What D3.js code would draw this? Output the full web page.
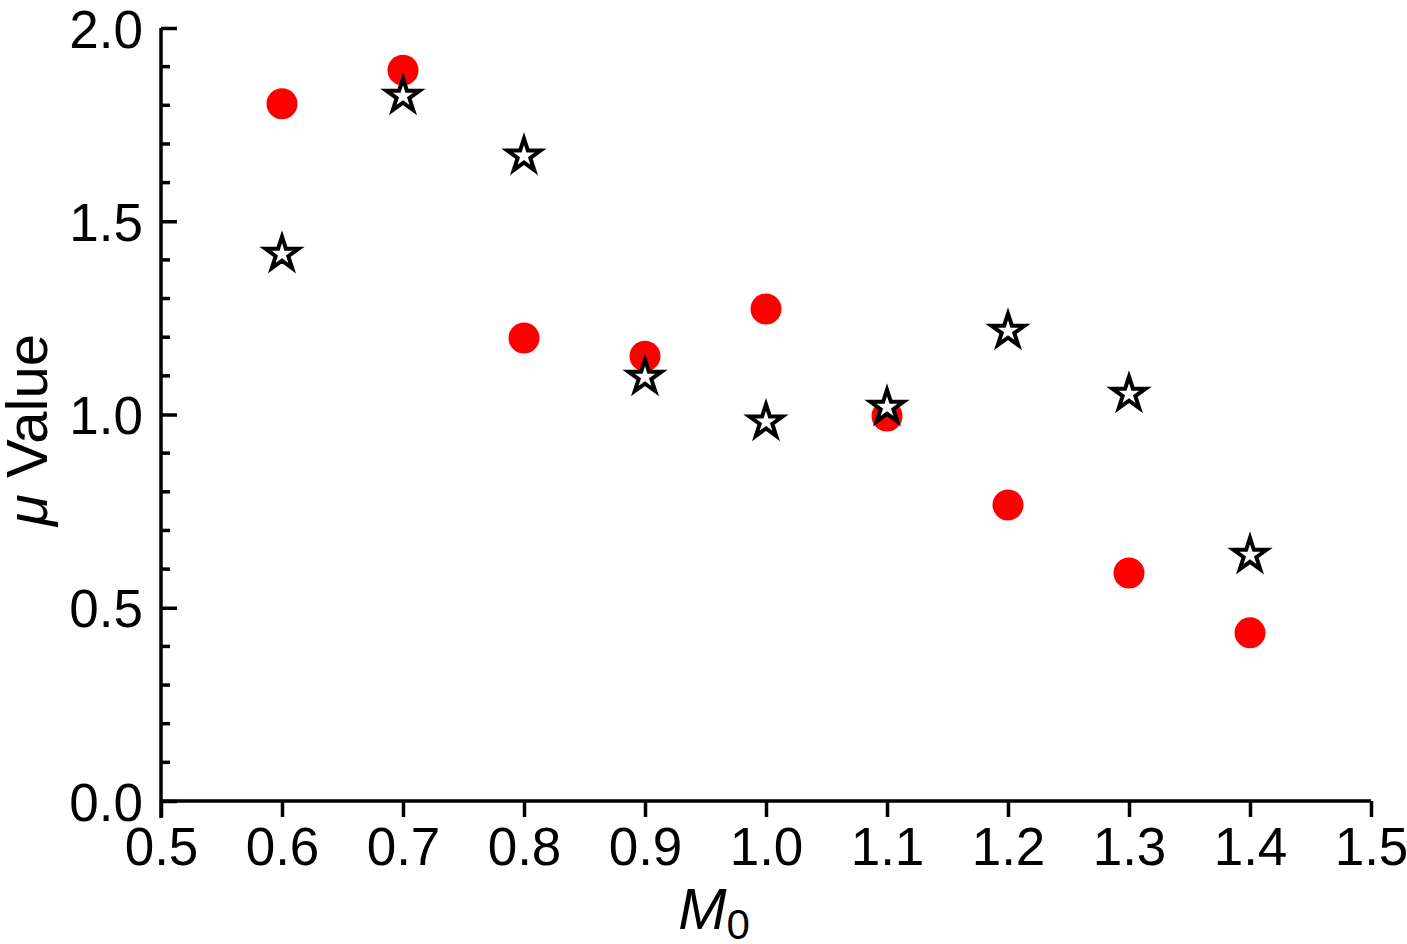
<!DOCTYPE html>
<html><head><meta charset="utf-8">
<script src="https://cdn.jsdelivr.net/npm/d3@7"></script>
<style>body{margin:0;background:#fff}svg{display:block}</style>
</head><body>
<script>
const m0 = [0.6,0.7,0.8,0.9,1.0,1.1,1.2,1.3,1.4];
const circleValues = [1.804,1.891,1.198,1.151,1.273,0.996,0.766,0.590,0.435];
const starValues = [1.415,1.824,1.669,1.097,0.981,1.019,1.216,1.053,0.636];
const xTicks = [0.5,0.6,0.7,0.8,0.9,1.0,1.1,1.2,1.3,1.4,1.5];
const yTicks = [0.0,0.5,1.0,1.5,2.0];
const yMinor = [0.1,0.2,0.3,0.4,0.6,0.7,0.8,0.9,1.1,1.2,1.3,1.4,1.6,1.7,1.8,1.9];

const W=1407,H=944;
const svg=d3.select("body").append("svg").attr("width",W).attr("height",H);
const x=d3.scaleLinear().domain([0.5,1.5]).range([161,1371]);
const y=d3.scaleLinear().domain([0,2]).range([801,28]);
const font="Liberation Sans, Arial, sans-serif";

// x axis
const gx=svg.append("g").attr("transform","translate(0,801)")
  .call(d3.axisBottom(x).tickValues(xTicks).tickFormat(d3.format(".1f")).tickSize(16).tickPadding(10));
gx.select(".domain").attr("stroke-width",3.5).attr("d",`M${x(0.5)},0H${x(1.5)}`);
gx.selectAll(".tick line").attr("stroke-width",3.5);
gx.selectAll(".tick text").attr("font-family",font).attr("font-size",53).attr("fill","#000");

// y axis (ticks inside)
const gy=svg.append("g").attr("transform","translate(161,0)")
  .call(d3.axisLeft(y).tickValues(yTicks).tickFormat(d3.format(".1f")).tickSize(0).tickPadding(18));
gy.select(".domain").attr("stroke-width",3.5).attr("d",`M0,${y(2)}V${801+17}`);
gy.selectAll(".tick text").attr("font-family",font).attr("font-size",53).attr("fill","#000").attr("dy","0.36em");
gy.selectAll(".tick").append("line").attr("x1",0).attr("x2",16).attr("stroke","#000").attr("stroke-width",3.5);
gy.selectAll(".minor").data(yMinor).enter().append("line")
  .attr("x1",0).attr("x2",9).attr("y1",d=>y(d)).attr("y2",d=>y(d))
  .attr("stroke","#000").attr("stroke-width",3.5);

// labels
svg.append("text").attr("transform","translate(47,430) rotate(-90)")
  .attr("text-anchor","middle").attr("font-family",font).attr("font-size",58)
  .html('<tspan font-style="italic">μ</tspan> Value');
svg.append("text").attr("x",714).attr("y",929).attr("text-anchor","middle")
  .attr("font-family",font).attr("font-size",58)
  .html('<tspan font-style="italic">M</tspan><tspan font-size="42" dy="10">0</tspan>');

// circles
svg.append("g").selectAll("circle").data(m0).enter().append("circle")
  .attr("cx",d=>x(d)).attr("cy",(d,i)=>y(circleValues[i])).attr("r",15.5).attr("fill","#ff0000");

// stars
const star=d3.symbol().type(d3.symbolStar).size(340);
svg.append("g").selectAll("path").data(m0).enter().append("path")
  .attr("d",star).attr("transform",(d,i)=>`translate(${x(d)},${y(starValues[i])})`)
  .attr("fill","#fff").attr("stroke","#000").attr("stroke-width",4).attr("stroke-linejoin","miter");
</script>
</body></html>
